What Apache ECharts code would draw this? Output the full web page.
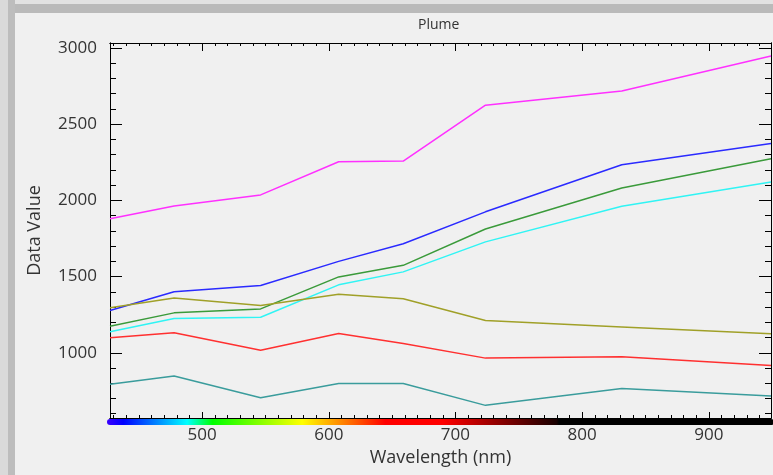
<!DOCTYPE html>
<html>
<head>
<meta charset="utf-8">
<script src="https://cdn.jsdelivr.net/npm/echarts@6/dist/echarts.min.js"></script>
<style>
  html, body { margin: 0; padding: 0; background: #f0f0f0; }
  #main { width: 773px; height: 475px; }
</style>
</head>
<body>
<div id="main"></div>
<script>
// band centres (nm)
const wavelengths = [427.3, 477.9, 546.2, 607.8, 658.8, 723.7, 831.3, 949.1];

// spectra
const magentaLine = [1880, 1963, 2036, 2254, 2258, 2625, 2718, 2948];
const blueLine = [1277, 1400, 1441, 1600, 1716, 1925, 2234, 2373];
const greenLine = [1174, 1262, 1288, 1498, 1574, 1812, 2081, 2274];
const cyanLine = [1138, 1225, 1233, 1446, 1531, 1728, 1962, 2121];
const oliveLine = [1295, 1360, 1310, 1384, 1354, 1212, 1170, 1125];
const redLine = [1098, 1131, 1017, 1126, 1061, 965, 974, 917];
const tealLine = [794, 847, 705, 799, 799, 655, 766, 716];

// ticks
const xMajorTicks = [500, 600, 700, 800, 900];
const xMinorTicks = [430, 440, 450, 460, 470, 480, 490, 510, 520, 530, 540, 550, 560, 570, 580, 590,
  610, 620, 630, 640, 650, 660, 670, 680, 690, 710, 720, 730, 740, 750, 760, 770, 780, 790,
  810, 820, 830, 840, 850, 860, 870, 880, 890, 910, 920, 930, 940];
const yMajorTicks = [1000, 1500, 2000, 2500, 3000];
const yMinorTicks = [600, 700, 800, 900, 1100, 1200, 1300, 1400, 1600, 1700, 1800, 1900,
  2100, 2200, 2300, 2400, 2600, 2700, 2800, 2900];

// colour bar under the wavelength axis
const barWavelengths = [427.3, 440, 490, 510, 580, 645, 690, 779, 781, 949.1];
const barColors = ['#3a00ff', '#0000ff', '#00ffff', '#00ff00', '#ffff00', '#ff0000', '#ff0000', '#180000', '#000000', '#000000'];

const xMin = 427.3, xMax = 949.1;
const yMin = 572, yMax = 3033;
const font = 'Open Sans';

const chart = echarts.init(document.getElementById('main'), null, { renderer: 'canvas' });

function pairs(ys) {
  return ys.map((v, i) => [wavelengths[i], v]);
}

function xAxisOf(pos, ticks, len, extra) {
  return Object.assign({
    type: 'value', position: pos, min: xMin, max: xMax,
    axisLine: { show: true, onZero: false, lineStyle: { color: '#000', width: 1 } },
    axisTick: { show: true, inside: true, length: len, customValues: ticks, lineStyle: { color: '#000' } },
    axisLabel: { show: false },
    splitLine: { show: false }
  }, extra || {});
}

function yAxisOf(pos, ticks, len, extra) {
  return Object.assign({
    type: 'value', position: pos, min: yMin, max: yMax,
    axisLine: { show: true, onZero: false, lineStyle: { color: '#000', width: 1 } },
    axisTick: { show: true, inside: true, length: len, customValues: ticks, lineStyle: { color: '#000' } },
    axisLabel: { show: false },
    splitLine: { show: false }
  }, extra || {});
}

const stops = barWavelengths.map((w, i) => ({
  offset: (w - xMin) / (xMax - xMin),
  color: barColors[i]
}));

const lines = [
  ['magenta', magentaLine, '#ff30ff'],
  ['blue', blueLine, '#2a2aff'],
  ['green', greenLine, '#3a9a3a'],
  ['cyan', cyanLine, '#30f4f4'],
  ['olive', oliveLine, '#a0a028'],
  ['red', redLine, '#ff3030'],
  ['teal', tealLine, '#3a9c9c']
];

const option = {
  backgroundColor: '#f0f0f0',
  animation: false,
  title: {
    text: 'Plume',
    left: 413,
    top: 13,
    textStyle: { fontFamily: font, fontSize: 14, fontWeight: 'normal', color: '#333' }
  },
  graphic: [
    { type: 'rect', z: 0, shape: { x: 0, y: 0, width: 8, height: 475 }, style: { fill: '#dadada' } },
    { type: 'rect', z: 0, shape: { x: 8, y: 0, width: 7, height: 475 }, style: { fill: '#bdbdbd' } },
    { type: 'rect', z: 0, shape: { x: 15, y: 0, width: 758, height: 4 }, style: { fill: '#e2e2e2' } },
    { type: 'rect', z: 0, shape: { x: 15, y: 4, width: 758, height: 9 }, style: { fill: '#bababa' } }
  ],
  grid: { left: 110, right: 2, top: 43, bottom: 57, containLabel: false },
  xAxis: [
    xAxisOf('bottom', xMajorTicks, 6, {
      name: 'Wavelength (nm)',
      nameLocation: 'middle',
      nameGap: 29,
      nameTextStyle: { fontFamily: font, fontSize: 18, color: '#333' },
      axisLabel: { show: true, customValues: xMajorTicks, margin: 9, fontFamily: font, fontSize: 17, color: '#333' }
    }),
    xAxisOf('bottom', xMinorTicks, 3),
    xAxisOf('top', xMajorTicks, 8),
    xAxisOf('top', xMinorTicks, 3),
    {
      type: 'value', position: 'bottom', offset: 4, min: xMin, max: xMax,
      axisLine: { show: true, onZero: false, lineStyle: { width: 6, color: { type: 'linear', x: 0, y: 0, x2: 1, y2: 0, colorStops: stops } } },
      axisTick: { show: false }, axisLabel: { show: false }, splitLine: { show: false }
    }
  ],
  yAxis: [
    yAxisOf('left', yMajorTicks, 12, {
      name: 'Data Value',
      nameLocation: 'middle',
      nameGap: 66,
      nameTextStyle: { fontFamily: font, fontSize: 18, color: '#333' },
      axisLabel: {
        show: true, customValues: yMajorTicks, margin: 13, fontFamily: font, fontSize: 17, color: '#333',
        formatter: v => String(v)
      }
    }),
    yAxisOf('left', yMinorTicks, 6),
    yAxisOf('right', yMajorTicks, 12),
    yAxisOf('right', yMinorTicks, 6)
  ],
  series: lines.map(l => ({
    name: l[0],
    type: 'line',
    xAxisIndex: 0,
    yAxisIndex: 0,
    data: pairs(l[1]),
    showSymbol: false,
    symbol: 'none',
    lineStyle: { color: l[2], width: 1.5 },
    z: 3
  }))
};

chart.setOption(option);
</script>
</body>
</html>
